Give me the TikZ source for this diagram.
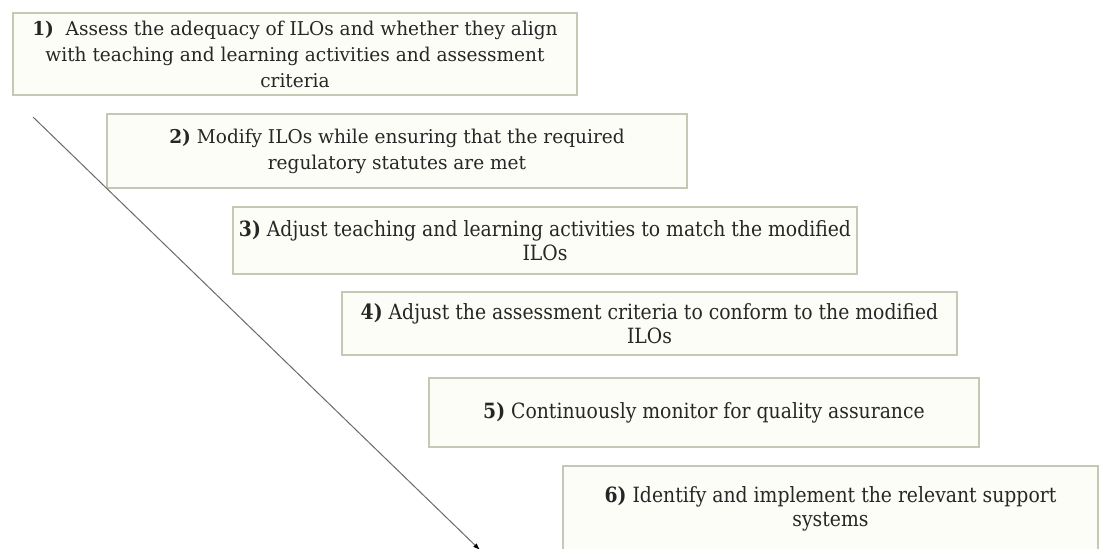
\documentclass[tikz,border=0pt]{standalone}
\usepackage{fontspec}
\setmainfont{DejaVu Serif}
% regular-width face for the first two steps, narrower face for the rest
\newfontfamily\widefont[FakeStretch=0.975]{DejaVu Serif}
\newfontfamily\narrowfont[FakeStretch=0.895]{DejaVu Serif}
\usetikzlibrary{arrows.meta}
\definecolor{boxline}{HTML}{C4C8B4}
\definecolor{boxfill}{HTML}{FDFDF8}
\definecolor{ink}{HTML}{262626}
\definecolor{guide}{HTML}{6A6A6A}

\begin{document}
\begin{tikzpicture}[x=1pt,y=-1pt,
  stage/.style={draw=boxline, fill=boxfill, line width=1.2pt, inner sep=0pt,
    align=center, text=ink},
  widetext/.style={font=\widefont\fontsize{19}{26}\selectfont},
  narrowtext/.style={font=\narrowfont\fontsize{21}{24}\selectfont},
  guideline/.style={draw=guide, line width=1pt,
    -{Latex[length=7pt,width=5pt,color=black]}}]

\useasboundingbox (0,0) rectangle (1101,549);
\fill[white] (0,0) rectangle (1101,549);

% the six steps, stepping down to the right
\node[stage, widetext, minimum width=564pt, minimum height=82pt] (b1) at (295,54)
  {\textbf{1)}\ \ Assess the adequacy of ILOs and whether they align\\
   with teaching and learning activities and assessment\\ criteria};
\node[stage, widetext, minimum width=580pt, minimum height=74pt] (b2) at (397,151)
  {\textbf{2)} Modify ILOs while ensuring that the required\\ regulatory statutes are met};
\node[stage, narrowtext, minimum width=624pt, minimum height=67pt] (b3) at (545,240.5)
  {\textbf{3)} Adjust teaching and learning activities to match the modified\\ ILOs};
\node[stage, narrowtext, minimum width=615pt, minimum height=63pt] (b4) at (649.5,323.5)
  {\textbf{4)} Adjust the assessment criteria to conform to the modified\\ ILOs};
\node[stage, narrowtext, minimum width=550pt, minimum height=69pt] (b5) at (704,412.5)
  {\textbf{5)} Continuously monitor for quality assurance};
\node[stage, narrowtext, minimum width=535pt, minimum height=85pt] (b6) at (830.5,508.5)
  {\textbf{6)} Identify and implement the relevant support\\ systems};

% diagonal arrow running down beside the steps
\coordinate (gstart) at (33,117);
\coordinate (gend) at (480,550);
\draw[guideline] (gstart) -- (gend);
\end{tikzpicture}
\end{document}
